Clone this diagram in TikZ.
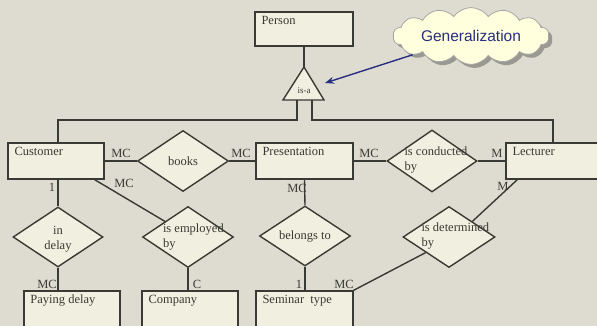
\documentclass[tikz,border=0pt]{standalone}
\usepackage{fontspec}
\setmainfont{Liberation Serif}
\newfontfamily\cloudfont{Liberation Sans}
\usetikzlibrary{shapes.geometric,shapes.symbols,arrows.meta,shadows}

\definecolor{bg}{RGB}{222,220,208}
\definecolor{boxfill}{RGB}{241,239,224}
\definecolor{ink}{RGB}{58,58,52}
\definecolor{navy}{RGB}{40,46,128}
\definecolor{cloudfill}{RGB}{255,255,222}

\begin{document}
\begin{tikzpicture}[x=1pt,y=-1pt,
  every node/.style={font=\fontsize{12.5}{15}\selectfont, text=ink},
  link/.style={draw=ink, line width=1.4pt},
  entity/.style={draw=ink, line width=1.4pt, fill=boxfill, rectangle,
    inner sep=0pt, minimum width=96pt, minimum height=36pt},
  tall/.style={minimum height=40pt},
  etitle/.style={anchor=north west, inner xsep=7pt, inner ysep=4.5pt},
  relation/.style={draw=ink, line width=1.4pt, fill=boxfill, diamond,
    inner sep=0pt, minimum width=91pt, minimum height=61pt},
  rtext/.style={align=left, anchor=west, inner sep=0pt},
  ctext/.style={align=center, inner sep=0pt},
  card/.style={inner sep=0pt},
]
% canvas
\useasboundingbox (0,0) rectangle (597,326);
\fill[bg] (0,0) rectangle (597,326);

% callout cloud
\node[cloud, cloud puffs=14, cloud puff arc=110, aspect=3.4,
  draw=black!35, line width=0.8pt, fill=cloudfill,
  minimum width=156pt, minimum height=52pt, inner sep=0pt,
  drop shadow={shadow xshift=3.5pt, shadow yshift=-3.5pt, fill=black, opacity=0.3},
  font=\cloudfont\fontsize{15.5}{18}\selectfont, text=navy]
  (gen) at (471,36) {Generalization};

% entities
\node[entity, minimum width=98pt, minimum height=34pt] (person) at (304,29) {};
\node[etitle] (personT) at (person.north west) {Person};
\node[entity] (cust) at (56,161) {};
\node[etitle] (custT) at (cust.north west) {Customer};
\node[entity, minimum width=97pt] (pres) at (304.5,161) {};
\node[etitle] (presT) at (pres.north west) {Presentation};
\node[entity, minimum width=94pt] (lect) at (553,161) {};
\node[etitle] (lectT) at (lect.north west) {Lecturer};
\node[entity, tall] (pay) at (72,311) {};
\node[etitle] (payT) at (pay.north west) {Paying delay};
\node[entity, tall] (comp) at (190,311) {};
\node[etitle] (compT) at (comp.north west) {Company};
\node[entity, tall, minimum width=97pt] (sem) at (304.5,311) {};
\node[etitle] (semT) at (sem.north west) {Seminar\ \ type};

% is-a triangle
\draw[link, fill=boxfill, line join=miter] (304,67) coordinate (isatop)
  -- (324,100) -- (283,100) -- cycle;
\coordinate (isaL) at (297,100);
\coordinate (isaR) at (312,100);
\node[ctext, font=\fontsize{9}{10}\selectfont] (isaT) at (304,91) {is-a};

% relationships
\node[relation] (books) at (183,161) {};
\node[ctext] (booksT) at (books.center) {books};
\node[relation, minimum width=90pt, minimum height=62pt] (cond) at (432,161) {};
\node[rtext] (condT) at ([xshift=18pt,yshift=0.5pt]cond.west) {is conducted\\by};
\node[relation, minimum width=90pt, minimum height=60pt] (delay) at (58,237) {};
\node[ctext] (delayT) at ([yshift=-2pt]delay.center) {in\\delay};
\node[relation] (emp) at (188,237) {};
\node[rtext] (empT) at ([xshift=21pt,yshift=-0.5pt]emp.west) {is employed\\by};
\node[relation, minimum height=60pt] (belong) at (305,236) {};
\node[ctext] (belongT) at ([yshift=-1pt]belong.center) {belongs to};
\node[relation, minimum width=92pt] (det) at (449,237) {};
\node[rtext] (detT) at ([xshift=19pt,yshift=0.5pt]det.west) {is determined\\by};

% connectors
\draw[link] (person.south) -- (isatop);
\draw[link] (isaL) -- ++(0,20) -| ([xshift=2pt]cust.north);
\draw[link] (isaR) -- ++(0,20) -| (lect.north);
\draw[link] (cust.east) -- (books.west);
\draw[link] (books.east) -- (pres.west);
\draw[link] (pres.east) -- (cond.west);
\draw[link] (cond.east) -- (lect.west);
\draw[link] ([xshift=2pt]cust.south) -- (delay.north);
\draw[link] (delay.south) -- (delay.south |- pay.north);
\draw[link] ([xshift=-10pt]cust.south east) -- (emp.north west);
\draw[link] (emp.south) -- (emp.south |- comp.north);
\draw[link] (pres.south) -- (belong.north);
\draw[link] (belong.south) -- (belong.south |- sem.north);
\draw[link] ([xshift=12pt]lect.south west) -- (det.north east);
\draw[link] (det.south west) -- (sem.north east);

% generalization pointer
\coordinate (isaTip) at (325,83);
\draw[draw=navy, line width=1.4pt, -{Stealth[length=9pt,width=7pt]}]
  (gen) -- (isaTip);

% cardinalities
\node[card] (c1) at (121,153) {MC};
\node[card] (c2) at (241,153) {MC};
\node[card] (c3) at (369,153) {MC};
\node[card] (c4) at (497,153) {M};
\node[card] (c5) at (52,187) {1};
\node[card] (c6) at (124,183) {MC};
\node[card] (c7) at (297,188) {MC};
\node[card] (c8) at (503,186) {M};
\node[card] (c9) at (47,284) {MC};
\node[card] (c10) at (197,284) {C};
\node[card] (c11) at (299,284) {1};
\node[card] (c12) at (344,284) {MC};
\end{tikzpicture}
\end{document}
